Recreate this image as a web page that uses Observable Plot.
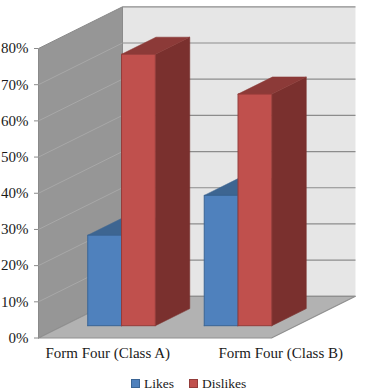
<!DOCTYPE html>
<html>
<head>
<meta charset="utf-8">
<script src="https://cdn.jsdelivr.net/npm/d3@7"></script>
<script src="https://cdn.jsdelivr.net/npm/@observablehq/plot@0.6"></script>
<style>
html,body{margin:0;padding:0;background:#fff;overflow:hidden}
#legend{display:flex;height:24px;font:13.5px "Liberation Serif",serif;color:#1a1a1a;position:relative}
#legend span{position:absolute;top:7.5px;line-height:16px}
#legend i{position:absolute;top:10.5px;width:7px;height:7px;border:1px solid}
svg{display:block}
</style>
</head>
<body>
<div id="chart"></div>
<div id="legend"></div>
<script>
const categories = ["Form Four (Class A)", "Form Four (Class B)"];
const seriesNames = ["Likes", "Dislikes"];
const likes = [25, 36];
const dislikes = [75, 64];
const yTicks = [0, 10, 20, 30, 40, 50, 60, 70, 80];

const series = [
  {name: seriesNames[0], values: likes, front: "#4f81bd", top: "#3d6591", side: "#385d8a", edge: "#3a6595"},
  {name: seriesNames[1], values: dislikes, front: "#c0504d", top: "#8c3a38", side: "#7a302e", edge: "#943c3a"}
];

// oblique projection: depth d (0 front .. 1 back) shifts along x and y data units
const DX = 0.721, DY = 11.52, YMAX = 80;
const P = (x, v, d) => ({x: x + d * DX, y: v + d * DY});
const face = (pts, fill, stroke, strokeWidth = 1) =>
  Plot.line([...pts, pts[0]].map(p => P(...p)), {x: "x", y: "y", fill, stroke, strokeWidth, strokeLinejoin: "miter"});

const marks = [];
// walls and floor
marks.push(face([[0,0,1],[2,0,1],[2,YMAX,1],[0,YMAX,1]], "#e6e6e6", "none"));
marks.push(face([[0,0,0],[0,0,1],[0,YMAX,1],[0,YMAX,0]], "#969696", "#8a8a8a"));
marks.push(face([[0,0,0],[2,0,0],[2,0,1],[0,0,1]], "#b2b2b2", "#8f8f8f", 1.2));

// gridlines
const gridBack = yTicks.slice(1).map(v => ({a: P(0, v, 1), b: P(2, v, 1)}));
const gridSide = yTicks.slice(1, -1).map(v => ({a: P(0, v, 0), b: P(0, v, 1)}));
marks.push(Plot.link(gridBack, {x1: d => d.a.x, y1: d => d.a.y, x2: d => d.b.x, y2: d => d.b.y, stroke: "#8c8c8c", strokeWidth: 1.2}));
marks.push(Plot.link(gridSide, {x1: d => d.a.x, y1: d => d.a.y, x2: d => d.b.x, y2: d => d.b.y, stroke: "#a8a8a8", strokeWidth: 1}));
marks.push(face([[0,0,1],[2,0,1]], "none", "#8f8f8f", 1.2));

// bars
const GAP = 0.21, BW = 0.29, D0 = 0.295, D1 = 0.705;
categories.forEach((c, i) => {
  series.forEach((s, k) => {
    const x0 = i + GAP + k * BW, x1 = x0 + BW, v = s.values[i];
    marks.push(face([[x1,0,D0],[x1,0,D1],[x1,v,D1],[x1,v,D0]], s.side, s.side, 0.6));
    marks.push(face([[x0,v,D0],[x1,v,D0],[x1,v,D1],[x0,v,D1]], s.top, s.top, 0.6));
    marks.push(face([[x0,0,D0],[x1,0,D0],[x1,v,D0],[x0,v,D0]], s.front, s.edge, 1));
  });
});

// axes
marks.push(Plot.axisY({
  ticks: yTicks, tickFormat: d => d + "%", anchor: "left", tickSize: 4, tickPadding: 6,
  stroke: "#8a8a8a", fill: "#1a1a1a", fontSize: 15, fontFamily: "Liberation Serif", label: null
}));
const labelDx = [11, 67.5];
categories.forEach((c, i) => {
  marks.push(Plot.text([c], {
    x: [i + 0.5], y: [0], dy: 15, dx: labelDx[i], text: d => d,
    fontSize: 15, fontFamily: "Liberation Serif", fill: "#1a1a1a", textAnchor: "middle"
  }));
});

const chart = Plot.plot({
  width: 365, height: 368,
  marginLeft: 38, marginRight: 0, marginTop: 0, marginBottom: 0,
  style: {background: "#fff", overflow: "visible"},
  x: {type: "linear", domain: [0, 2], range: [38, 271], axis: null},
  y: {type: "linear", domain: [0, YMAX], range: [337.5, 48], axis: null},
  marks
});
document.getElementById("chart").append(chart);

const legend = document.getElementById("legend");
const swatchX = [131, 189], textX = [144, 202];
series.forEach((s, k) => {
  const sw = document.createElement("i");
  sw.style.cssText = `left:${swatchX[k]}px;background:${s.front};border-color:${s.edge}`;
  const t = document.createElement("span");
  t.style.left = textX[k] + "px";
  t.textContent = s.name;
  legend.append(sw, t);
});
</script>
</body>
</html>
